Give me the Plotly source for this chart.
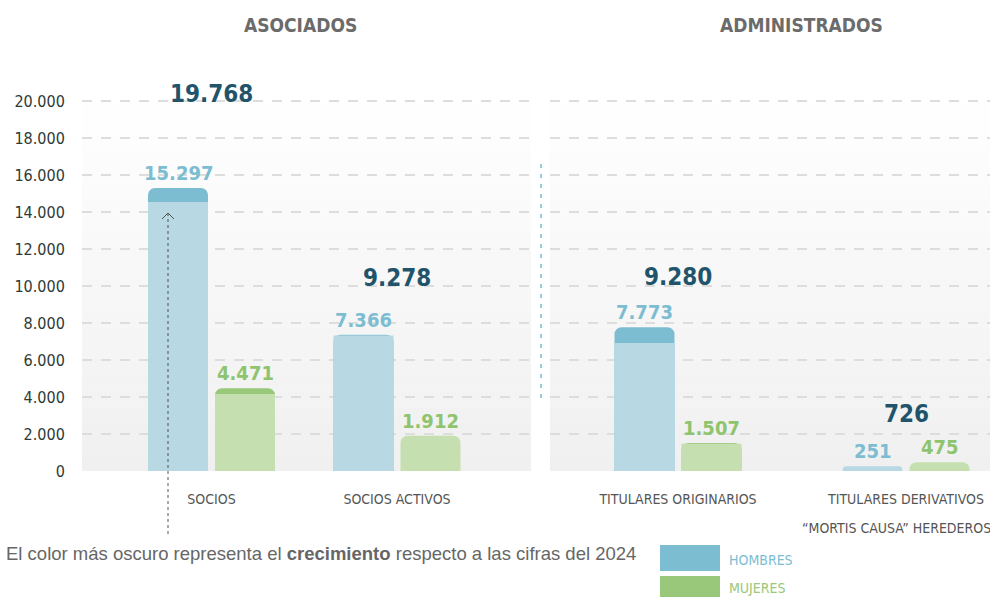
import plotly.graph_objects as go

# ---------------- data ----------------
asociados_cats = ["SOCIOS", "SOCIOS ACTIVOS"]
administrados_cats = ["TITULARES ORIGINARIOS", "TITULARES DERIVATIVOS<br>“MORTIS CAUSA” HEREDEROS"]

asoc_hombres = [15297, 7366]
asoc_mujeres = [4471, 1912]
asoc_hombres_2024 = [14540, 7320]
asoc_mujeres_2024 = [4160, 1912]
asoc_total = [19768, 9278]

admin_hombres = [7773, 251]
admin_mujeres = [1507, 475]
admin_hombres_2024 = [6920, 251]
admin_mujeres_2024 = [1470, 475]
admin_total = [9280, 726]

y_tickvals = [0, 2000, 4000, 6000, 8000, 10000, 12000, 14000, 16000, 18000, 20000]
y_ticktext = ["0", "2.000", "4.000", "6.000", "8.000", "10.000", "12.000", "14.000", "16.000", "18.000", "20.000"]

# ---------------- styles ----------------
H_LIGHT, H_DARK, H_TEXT = "#b8d9e3", "#7dbdd2", "#7dbdd2"
M_LIGHT, M_DARK, M_TEXT = "#c5dfb0", "#99c87a", "#8fc46f"
TOTAL_COLOR = "#1f546b"
NARROW = "DejaVu Sans Condensed, Liberation Sans Narrow, Arial Narrow, sans-serif"

def fmt(v):
    return f"{v:,}".replace(",", ".")

# pixel geometry (plot area from x=82..990, y=86..471)
L, R, T, B = 82, 990, 86, 471
PW, PH = R - L, B - T
left_px = (82, 531, 211.5, 397.0)    # domain start, end, cat0 center, cat1 center
right_px = (550, 990, 678.0, 906.0)

def axis_setup(px):
    d0, d1, c0, c1 = px
    u = c1 - c0
    rng = [-(c0 - d0) / u, 1 + (d1 - c1) / u]
    dom = [(d0 - L) / PW, (d1 - L) / PW]
    return u, rng, dom

fig = go.Figure()

panels = [
    ("x", "y", left_px, asociados_cats, asoc_hombres, asoc_hombres_2024, asoc_mujeres, asoc_mujeres_2024, asoc_total),
    ("x2", "y2", right_px, administrados_cats, admin_hombres, admin_hombres_2024, admin_mujeres, admin_mujeres_2024, admin_total),
]

annotations = []
shapes = []
axis_info = {}
total_lift = {19768: 11, 9278: 21, 9280: 22, 726: 44}

for xa, ya, px, cats, hom, hom24, muj, muj24, tot in panels:
    u, rng, dom = axis_setup(px)
    axis_info[xa] = (rng, dom, cats)
    for vals, vals24, light, dark, txtc, off in [
        (hom, hom24, H_LIGHT, H_DARK, H_TEXT, -63.5),
        (muj, muj24, M_LIGHT, M_DARK, M_TEXT, 3.5),
    ]:
        grew = [v > p for v, p in zip(vals, vals24)]
        # full 2025 bar (dark where there was growth), rounded top
        fig.add_trace(go.Bar(
            x=cats, y=vals, xaxis=xa, yaxis=ya,
            marker=dict(color=[dark if g else light for g in grew], line=dict(width=0), cornerradius=7),
            width=60 / u, offset=off / u, hoverinfo="skip", showlegend=False,
        ))
        # 2024 level drawn on top in the light colour, square corners
        fig.add_trace(go.Bar(
            x=cats, y=[p if g else 0 for p, g in zip(vals24, grew)],
            xaxis=xa, yaxis=ya, marker=dict(color=light, line=dict(width=0)),
            width=60 / u, offset=off / u, hoverinfo="skip", showlegend=False,
        ))
        for c, v in zip(cats, vals):
            annotations.append(dict(
                x=c, y=v, xref=xa, yref=ya, text=fmt(v), showarrow=False,
                xshift=off + 30, yshift=15, yanchor="middle",
                font=dict(family=NARROW, size=20, color=txtc, weight="bold"),
            ))
    for c, t in zip(cats, tot):
        annotations.append(dict(
            x=c, y=t, xref=xa, yref=ya, text=fmt(t), showarrow=False,
            yshift=total_lift.get(t, 15), yanchor="middle",
            font=dict(family=NARROW, size=24, color=TOTAL_COLOR, weight="bold"),
        ))
    # extra lines of multi-line category labels
    for c in cats:
        parts = c.split("<br>")
        for k, extra in enumerate(parts[1:], start=1):
            annotations.append(dict(
                x=c, y=0, xref=xa, yref=ya, text=extra, showarrow=False,
                yshift=-29 - 28 * k, yanchor="middle", xshift=-10,
                font=dict(family=NARROW, size=14, color="#555555"),
            ))
    # gradient background bands
    n = 24
    for i in range(n):
        f = i / (n - 1)
        g = int(round(0xf0 + (0xff - 0xf0) * f))
        shapes.append(dict(
            type="rect", xref=f"{xa} domain", yref=f"{ya} domain",
            x0=0, x1=1, y0=i / n, y1=(i + 1) / n, layer="below",
            line=dict(width=0), fillcolor=f"rgb({g},{g},{g})",
        ))

def px_x(p):
    return (p - L) / PW

def px_y(p):
    return (B - p) / PH

# separator between panels
shapes.append(dict(type="line", xref="paper", yref="paper",
                   x0=px_x(541), x1=px_x(541), y0=px_y(164), y1=px_y(400),
                   line=dict(color="#8fd0da", width=2, dash="4px,6px"), layer="above"))
# dotted arrow
shapes.append(dict(type="line", xref="paper", yref="paper",
                   x0=px_x(168), x1=px_x(168), y0=px_y(213), y1=px_y(537),
                   line=dict(color="#555555", width=1, dash="3px,3px"), layer="above"))
shapes.append(dict(type="path", xref="paper", yref="paper",
                   path=f"M {px_x(162)},{px_y(219)} L {px_x(168)},{px_y(213)} L {px_x(174)},{px_y(219)}",
                   line=dict(color="#555555", width=1), layer="above"))
# legend boxes
shapes.append(dict(type="rect", xref="paper", yref="paper",
                   x0=px_x(660), x1=px_x(720), y0=px_y(545), y1=px_y(571),
                   fillcolor=H_DARK, line=dict(width=0)))
shapes.append(dict(type="rect", xref="paper", yref="paper",
                   x0=px_x(660), x1=px_x(720), y0=px_y(576), y1=px_y(602),
                   fillcolor=M_DARK, line=dict(width=0)))

annotations += [
    dict(x=px_x(727), y=px_y(560), xref="paper", yref="paper", text="HOMBRES", showarrow=False,
         xanchor="left", yanchor="middle", font=dict(family=NARROW, size=14, color=H_DARK)),
    dict(x=px_x(727), y=px_y(588), xref="paper", yref="paper", text="MUJERES", showarrow=False,
         xanchor="left", yanchor="middle", font=dict(family=NARROW, size=14, color=M_DARK)),
    dict(x=px_x(4), y=px_y(553), xref="paper", yref="paper",
         text="El color más oscuro representa el <b>crecimiento</b> respecto a las cifras del 2024",
         showarrow=False, xanchor="left", yanchor="middle",
         font=dict(family="Liberation Sans, Arial, sans-serif", size=18.5, color="#666666")),
    dict(x=px_x(300), y=px_y(25), xref="paper", yref="paper", text="ASOCIADOS", showarrow=False,
         xanchor="center", yanchor="middle",
         font=dict(family=NARROW, size=19, color="#6b6b6b", weight="bold")),
    dict(x=px_x(801), y=px_y(25), xref="paper", yref="paper", text="ADMINISTRADOS", showarrow=False,
         xanchor="center", yanchor="middle",
         font=dict(family=NARROW, size=19, color="#6b6b6b", weight="bold")),
]

grid = dict(showgrid=True, gridcolor="#dddddd", gridwidth=1.5, griddash="10px,9px",
            zeroline=False, range=[0, (B - T) / 18.5 * 1000],
            tickvals=y_tickvals, ticktext=y_ticktext, showline=False, fixedrange=True)

def xaxis(key):
    rng, dom, cats = axis_info[key]
    return dict(domain=dom, range=rng, type="category", categoryorder="array", categoryarray=cats,
                tickvals=cats, ticktext=[c.split("<br>")[0] for c in cats],
                ticks="outside", ticklen=15, tickcolor="rgba(0,0,0,0)",
                tickfont=dict(family=NARROW, size=14, color="#555555"),
                showgrid=False, zeroline=False, showline=False, fixedrange=True, automargin=False)

fig.update_layout(
    width=990, height=597,
    margin=dict(l=L, r=990 - R, t=T, b=597 - B, pad=0),
    paper_bgcolor="white", plot_bgcolor="rgba(0,0,0,0)",
    barmode="overlay", showlegend=False,
    xaxis=xaxis("x"), xaxis2=xaxis("x2"),
    yaxis=dict(**grid, anchor="x", ticks="outside", ticklen=13, tickcolor="rgba(0,0,0,0)",
               tickfont=dict(family=NARROW, size=16, color="#2e3a33"), automargin=False),
    yaxis2=dict(**grid, anchor="x2", showticklabels=False, matches="y", automargin=False),
    shapes=shapes, annotations=annotations,
)

fig.write_html("out.html", config={"displayModeBar": False},
               post_script="document.body.style.margin='0';")
